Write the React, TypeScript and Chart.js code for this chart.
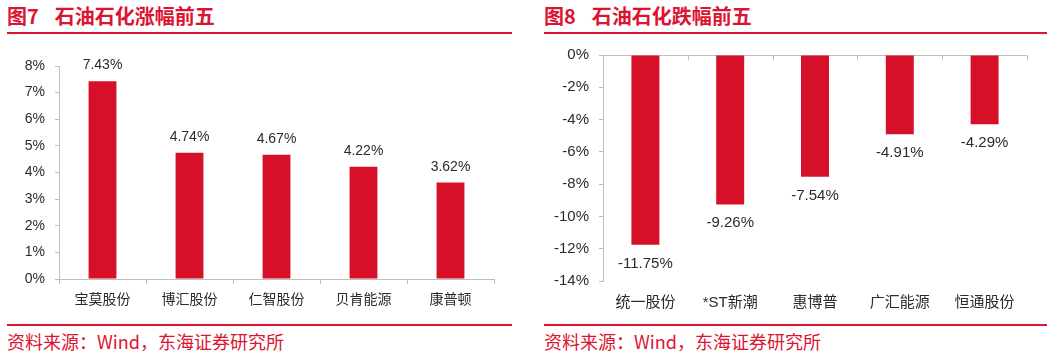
import React, { useEffect, useRef } from "react";
import { Chart, registerables } from "chart.js";

Chart.register(...registerables);

const gainCategories = ["宝莫股份", "博汇股份", "仁智股份", "贝肯能源", "康普顿"];
const gainValues = [7.43, 4.74, 4.67, 4.22, 3.62];
const gainTicks = { min: 0, max: 8, step: 1 };

const lossCategories = ["统一股份", "*ST新潮", "惠博普", "广汇能源", "恒通股份"];
const lossValues = [-11.75, -9.26, -7.54, -4.91, -4.29];
const lossTicks = { min: -14, max: 0, step: 2 };

const RED = "#D7102A";
const TEXT_RED = "#DC1431";
const AXIS = "#BFBFBF";
const LABEL = "#2B2B2B";
const FONT = '"Liberation Sans", "Noto Sans CJK SC", sans-serif';

function valueLabelPlugin(size: number, below: boolean) {
  return {
    id: "valueLabels",
    afterDatasetsDraw(chart: any) {
      const ctx = chart.ctx;
      const meta = chart.getDatasetMeta(0);
      const data = chart.data.datasets[0].data as number[];
      ctx.save();
      ctx.font = `${size}px ${FONT}`;
      ctx.fillStyle = LABEL;
      ctx.textAlign = "center";
      ctx.textBaseline = "alphabetic";
      meta.data.forEach((el: any, i: number) => {
        const txt = data[i].toFixed(2) + "%";
        const y = below ? el.y + 23 : el.y - 12;
        ctx.fillText(txt, el.x, y);
      });
      ctx.restore();
    },
  };
}

const zeroLinePlugin = {
  id: "zeroLine",
  beforeDatasetsDraw(chart: any) {
    const { ctx, chartArea, scales } = chart;
    const y0 = Math.round(scales.y.getPixelForValue(0)) + 0.5;
    const n = chart.data.labels.length;
    ctx.save();
    ctx.strokeStyle = AXIS;
    ctx.lineWidth = 1;
    ctx.beginPath();
    ctx.moveTo(chartArea.left, y0);
    ctx.lineTo(chartArea.right, y0);
    for (let i = 0; i <= n; i++) {
      let x: number;
      if (i === 0) x = chartArea.left;
      else if (i === n) x = chartArea.right;
      else x = (scales.x.getPixelForValue(i - 1) + scales.x.getPixelForValue(i)) / 2;
      x = Math.round(x) + 0.5;
      ctx.moveTo(x, y0);
      ctx.lineTo(x, y0 + 5);
    }
    ctx.stroke();
    ctx.restore();
  },
};

function BarPanel(props: {
  left: number;
  categories: string[];
  values: number[];
  ticks: { min: number; max: number; step: number };
  negative: boolean;
}) {
  const ref = useRef<HTMLCanvasElement | null>(null);
  const neg = props.negative;
  const top = neg ? 36 : 40;
  const height = 320 - top;
  useEffect(() => {
    if (!ref.current) return;
    const tickSize = neg ? 15 : 14;
    const yWidth = neg ? 73 : 59;
    const xHeight = neg ? 39 : 41;
    const plugins: any[] = [valueLabelPlugin(tickSize, neg)];
    if (neg) plugins.push(zeroLinePlugin);
    const chart = new Chart(ref.current, {
      type: "bar",
      data: {
        labels: props.categories,
        datasets: [
          {
            data: props.values,
            backgroundColor: RED,
            borderWidth: 0,
            barPercentage: neg ? 0.33 : 0.32,
            categoryPercentage: 1,
          },
        ],
      },
      options: {
        animation: false,
        responsive: false,
        maintainAspectRatio: false,
        layout: { padding: { top: neg ? 19 : 26, right: neg ? 23 : 26, left: 0, bottom: 0 } },
        plugins: { legend: { display: false }, tooltip: { enabled: false } },
        scales: {
          x: {
            offset: true,
            grid: neg
              ? { display: false, drawTicks: false }
              : { display: true, drawOnChartArea: false, drawTicks: true, tickLength: 5, color: AXIS, offset: true },
            border: { display: !neg, color: AXIS },
            ticks: {
              color: LABEL,
              font: { family: FONT, size: tickSize },
              padding: neg ? 13 : 8,
              maxRotation: 0,
              autoSkip: false,
            },
            afterFit: (s: any) => {
              s.height = xHeight;
            },
          },
          y: {
            min: props.ticks.min,
            max: props.ticks.max,
            grid: { display: true, drawOnChartArea: false, drawTicks: true, tickLength: 4, color: AXIS },
            border: { display: true, color: AXIS },
            ticks: {
              stepSize: props.ticks.step,
              color: LABEL,
              font: { family: FONT, size: tickSize },
              padding: 10,
              callback: (v: any) => `${v}%`,
            },
            afterFit: (s: any) => {
              s.width = yWidth;
            },
          },
        },
      },
      plugins,
    });
    return () => chart.destroy();
  }, []);
  return (
    <canvas
      ref={ref}
      width={520}
      height={height}
      style={{ position: "absolute", left: props.left, top, width: 520, height }}
    />
  );
}

const titleStyle: React.CSSProperties = {
  position: "absolute",
  top: 6,
  fontFamily: '"Noto Sans CJK SC", sans-serif',
  fontWeight: 700,
  fontSize: 20,
  lineHeight: "20px",
  color: TEXT_RED,
  whiteSpace: "nowrap",
};
const sourceStyle: React.CSSProperties = {
  position: "absolute",
  top: 331,
  fontFamily: '"Noto Sans CJK SC", sans-serif',
  fontSize: 18,
  lineHeight: "20px",
  color: TEXT_RED,
  whiteSpace: "nowrap",
};
const ruleStyle = (left: number, top: number, width: number): React.CSSProperties => ({
  position: "absolute",
  left,
  top,
  width,
  height: 2,
  background: TEXT_RED,
});

export default function App() {
  return (
    <div style={{ position: "absolute", left: 0, top: 0, width: 1064, height: 355, background: "#fff", overflow: "hidden" }}>
      <div style={{ ...titleStyle, left: 7 }}>
        图7<span style={{ marginLeft: 16 }}>石油石化涨幅前五</span>
      </div>
      <div style={ruleStyle(7, 32, 505)} />
      <BarPanel left={0} categories={gainCategories} values={gainValues} ticks={gainTicks} negative={false} />
      <div style={ruleStyle(7, 324, 505)} />
      <div style={{ ...sourceStyle, left: 7 }}>资料来源：Wind，东海证券研究所</div>

      <div style={{ ...titleStyle, left: 544 }}>
        图8<span style={{ marginLeft: 16 }}>石油石化跌幅前五</span>
      </div>
      <div style={ruleStyle(544, 32, 503)} />
      <BarPanel left={530} categories={lossCategories} values={lossValues} ticks={lossTicks} negative={true} />
      <div style={ruleStyle(544, 324, 503)} />
      <div style={{ ...sourceStyle, left: 544 }}>资料来源：Wind，东海证券研究所</div>
    </div>
  );
}
